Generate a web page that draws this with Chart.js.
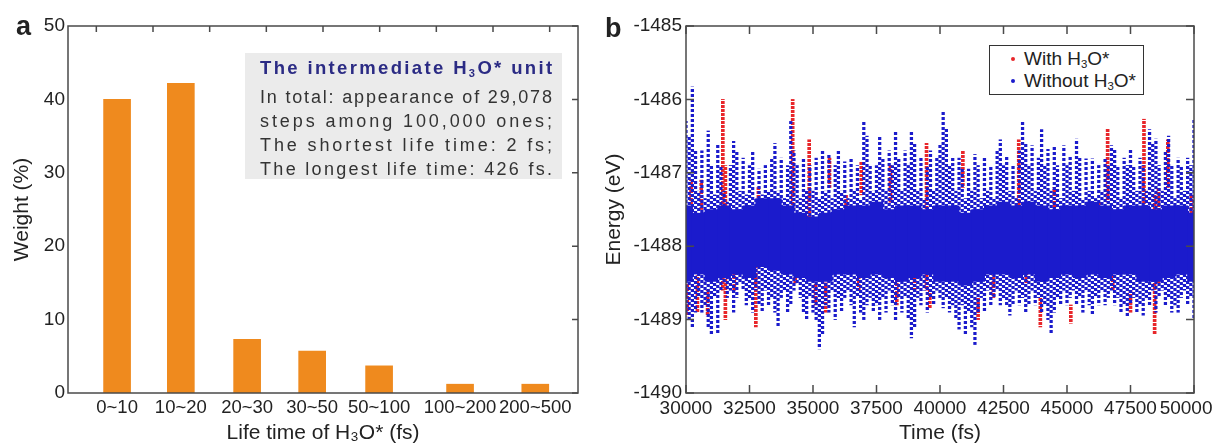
<!DOCTYPE html>
<html>
<head>
<meta charset="utf-8">
<script src="https://cdn.jsdelivr.net/npm/chart.js@4.4.0/dist/chart.umd.min.js"></script>
<style>
  body { margin: 0; background: #fff; font-family: "Liberation Sans", Arial, sans-serif; }
  #wrap { position: relative; width: 1215px; height: 446px; overflow: hidden; }
  #cA { position: absolute; left: 0; top: 0; }
  #cB { position: absolute; left: 590px; top: 0; }
  .tag { position: absolute; font-weight: bold; font-size: 27px; color: #222; line-height: 1; }
  #note { position: absolute; left: 245px; top: 53px; width: 317px; height: 126px; background: #ebebeb; }
  #note div { position: absolute; left: 15px; font-size: 18px; line-height: 24px; color: #333; white-space: nowrap; }
  #note div.head { color: #2b2b84; font-weight: bold; font-size: 18.5px; }
  sub { font-size: 60%; vertical-align: -0.25em; line-height: 0; }
  #legend { position: absolute; left: 989px; top: 45px; width: 153px; height: 48px; border: 1px solid #333;
            background: #fff; font-size: 19px; color: #222; }
  #legend div { position: absolute; left: 34px; line-height: 22px; white-space: nowrap; }
  #legend span.dot { position: absolute; left: -13px; top: 9px; width: 4px; height: 4px; border-radius: 50%; }
</style>
</head>
<body>
<div id="wrap">
  <canvas id="cA" width="590" height="446"></canvas>
  <canvas id="cB" width="625" height="446"></canvas>
  <div class="tag" style="left:16px;top:13px;">a</div>
  <div class="tag" style="left:605px;top:15px;">b</div>
  <div id="note">
    <div class="head" style="top:3px;">The intermediate H<sub>3</sub>O* unit</div>
    <div style="top:32px;">In total: appearance of 29,078</div>
    <div style="top:56px;">steps among 100,000 ones;</div>
    <div style="top:80px;">The shortest life time: 2 fs;</div>
    <div style="top:104px;">The longest life time: 426 fs.</div>
  </div>
  <div id="legend">
    <div style="top:2px;"><span class="dot" style="background:#e8262a"></span>With H<sub>3</sub>O*</div>
    <div style="top:24px;"><span class="dot" style="background:#1b1bcc"></span>Without H<sub>3</sub>O*</div>
  </div>
</div>
<script>
// Panel a: life time distribution of the H3O* unit
var lifeLabels = ["0~10", "10~20", "20~30", "30~50", "50~100", "100~200", "200~500"];
var weights = [40.0, 42.2, 7.3, 5.7, 3.7, 1.2, 1.2];

// Panel b: energy traces, read as streak ranges per time column
var blueTimes = [
  30000, 30125, 30250, 30375, 30500, 30625, 30750, 30875, 31000, 31125, 31250, 31375, 31500, 31625, 31750, 31875,
  32000, 32125, 32250, 32375, 32500, 32625, 32750, 32875, 33000, 33125, 33250, 33375, 33500, 33625, 33750, 33875,
  34000, 34125, 34250, 34375, 34500, 34625, 34750, 34875, 35000, 35125, 35250, 35375, 35500, 35625, 35750, 35875,
  36000, 36125, 36250, 36375, 36500, 36625, 36750, 36875, 37000, 37125, 37250, 37375, 37500, 37625, 37750, 37875,
  38000, 38125, 38250, 38375, 38500, 38625, 38750, 38875, 39000, 39125, 39250, 39375, 39500, 39625, 39750, 39875,
  40000, 40125, 40250, 40375, 40500, 40625, 40750, 40875, 41000, 41125, 41250, 41375, 41500, 41625, 41750, 41875,
  42000, 42125, 42250, 42375, 42500, 42625, 42750, 42875, 43000, 43125, 43250, 43375, 43500, 43625, 43750, 43875,
  44000, 44125, 44250, 44375, 44500, 44625, 44750, 44875, 45000, 45125, 45250, 45375, 45500, 45625, 45750, 45875,
  46000, 46125, 46250, 46375, 46500, 46625, 46750, 46875, 47000, 47125, 47250, 47375, 47500, 47625, 47750, 47875,
  48000, 48125, 48250, 48375, 48500, 48625, 48750, 48875, 49000, 49125, 49250, 49375, 49500, 49625, 49750, 49875,
  50000
];
var blueHigh = [
  -1486.3, -1486.5, -1485.83, -1486.7, -1487.25, -1486.7, -1487.35, -1486.43, -1486.9, -1487.3, -1486.6, -1486.9, -1487.25, -1487.4, -1486.9, -1486.57,
  -1486.7, -1487.25, -1486.8, -1487.3, -1486.9, -1486.7, -1487.35, -1486.95, -1487.3, -1486.9, -1487.25, -1486.8, -1486.6, -1487.25, -1486.8, -1487.35,
  -1486.9, -1486.3, -1486.7, -1486.9, -1487.35, -1486.8, -1487.25, -1486.9, -1487.25, -1486.8, -1487.35, -1486.7, -1487.25, -1486.75, -1487.35, -1486.9,
  -1486.7, -1487.25, -1486.85, -1487.35, -1486.8, -1487.25, -1486.9, -1487.35, -1486.3, -1486.5, -1486.9, -1487.25, -1486.9, -1486.5, -1486.8, -1487.25,
  -1486.7, -1486.9, -1486.45, -1486.8, -1487.25, -1486.7, -1486.9, -1486.45, -1486.6, -1487.25, -1486.8, -1487.35, -1486.9, -1486.7, -1487.25, -1486.8,
  -1486.6, -1486.16, -1486.4, -1486.9, -1486.8, -1487.25, -1486.8, -1486.95, -1487.35, -1486.95, -1487.25, -1486.75, -1486.9, -1487.35, -1486.8, -1487.25,
  -1486.9, -1487.35, -1486.7, -1486.55, -1486.9, -1486.77, -1487.25, -1486.9, -1487.35, -1486.7, -1486.3, -1486.6, -1486.9, -1486.63, -1487.25, -1486.8,
  -1486.41, -1486.9, -1486.68, -1487.25, -1486.63, -1486.9, -1487.35, -1486.63, -1486.9, -1486.77, -1487.25, -1486.54, -1486.8, -1487.35, -1486.81, -1487.25,
  -1486.81, -1487.35, -1486.9, -1487.25, -1486.8, -1486.9, -1486.63, -1486.68, -1486.9, -1487.35, -1486.8, -1486.9, -1486.68, -1486.9, -1487.25, -1486.8,
  -1486.9, -1487.25, -1486.41, -1486.6, -1486.54, -1486.9, -1487.25, -1486.7, -1486.5, -1486.9, -1487.35, -1486.8, -1486.9, -1487.25, -1486.8, -1486.9,
  -1486.27
];
var blueLow = [
  -1488.9, -1489.0, -1489.1, -1488.9, -1488.7, -1488.9, -1488.8, -1489.1, -1489.2, -1488.7, -1489.2, -1488.6, -1488.5, -1488.7, -1488.6, -1488.9,
  -1488.7, -1488.5, -1488.6, -1488.8, -1488.7, -1488.9, -1488.6, -1488.8, -1488.9, -1488.6, -1488.8, -1488.7, -1488.9, -1489.1, -1488.7, -1488.6,
  -1488.9, -1488.8, -1488.6, -1488.5, -1488.7, -1488.9, -1489.0, -1488.7, -1488.9, -1489.0, -1489.4, -1489.2, -1488.8, -1488.9, -1488.6, -1489.0,
  -1488.7, -1488.9, -1488.7, -1488.6, -1488.8, -1489.1, -1488.7, -1488.9, -1489.0, -1488.8, -1488.7, -1488.9, -1488.8, -1489.0, -1488.7, -1488.9,
  -1488.6, -1488.8, -1489.0, -1488.7, -1488.9, -1488.7, -1489.0, -1489.25, -1489.1, -1488.7, -1488.8, -1488.6, -1488.9, -1488.7, -1488.8, -1488.6,
  -1488.7, -1488.84, -1488.7, -1488.9, -1488.8, -1489.0, -1489.13, -1488.8, -1489.2, -1488.9, -1489.1, -1489.34, -1488.9, -1488.7, -1488.9, -1488.6,
  -1488.8, -1488.7, -1488.6, -1488.8, -1488.7, -1488.8, -1488.94, -1488.8, -1488.6, -1488.8, -1488.7, -1488.9, -1488.8, -1488.6, -1488.8, -1488.7,
  -1488.9, -1488.8, -1489.0, -1489.2, -1488.9, -1488.7, -1488.8, -1488.6, -1488.8, -1488.7, -1488.6, -1488.8, -1488.7, -1488.9, -1488.6, -1488.8,
  -1488.94, -1488.7, -1488.8, -1488.6, -1488.8, -1488.7, -1488.6, -1488.8, -1488.7, -1488.9, -1488.8, -1488.95, -1488.8, -1488.7, -1488.9, -1488.8,
  -1488.94, -1488.7, -1488.8, -1488.6, -1488.9, -1488.7, -1488.6, -1488.8, -1488.7, -1488.9, -1488.8, -1488.9, -1488.7, -1488.6, -1488.8, -1488.7,
  -1489.0
];
// dense core of the blue band, every 500 fs
var coreTimes = [
  30000, 30500, 31000, 31500, 32000, 32500, 33000, 33500, 34000, 34500, 35000, 35500, 36000, 36500,
  37000, 37500, 38000, 38500, 39000, 39500, 40000, 40500, 41000, 41500, 42000, 42500, 43000, 43500,
  44000, 44500, 45000, 45500, 46000, 46500, 47000, 47500, 48000, 48500, 49000, 49500, 50000
];
var coreHigh = [
  -1487.45, -1487.55, -1487.5, -1487.45, -1487.5, -1487.45, -1487.35, -1487.35, -1487.45, -1487.55, -1487.6, -1487.55, -1487.5, -1487.45,
  -1487.45, -1487.4, -1487.5, -1487.45, -1487.45, -1487.5, -1487.45, -1487.45, -1487.55, -1487.5, -1487.45, -1487.4, -1487.45, -1487.4,
  -1487.45, -1487.5, -1487.45, -1487.45, -1487.4, -1487.45, -1487.5, -1487.45, -1487.45, -1487.5, -1487.45, -1487.45, -1487.55
];
var coreLow = [
  -1488.48, -1488.38, -1488.48, -1488.43, -1488.38, -1488.43, -1488.28, -1488.33, -1488.38, -1488.43, -1488.48, -1488.48, -1488.38, -1488.38,
  -1488.43, -1488.38, -1488.43, -1488.48, -1488.43, -1488.38, -1488.48, -1488.48, -1488.53, -1488.48, -1488.38, -1488.38, -1488.43, -1488.38,
  -1488.48, -1488.43, -1488.38, -1488.43, -1488.38, -1488.43, -1488.38, -1488.38, -1488.48, -1488.48, -1488.43, -1488.38, -1488.48
];
// red streaks (steps with H3O*)
var redTimes = [
  30050, 30200, 30450, 30600, 30850, 31000, 31450, 31550, 31900, 32200, 32750, 32850, 33500, 34200, 34300, 34850,
  35100, 35500, 35650, 36300, 36800, 36900, 38050, 38300, 39000, 39470, 39600, 40900, 41100, 41500, 42100, 43100,
  43400, 43950, 44500, 45150, 45700, 46300, 46600, 46800, 47300, 47500, 48030, 48450, 48600, 48970, 49300, 49900
];
var redHigh = [
  -1488.5, -1487.1, -1488.4, -1487.1, -1488.6, -1487.8, -1486.0, -1486.9, -1488.3, -1487.5, -1488.0, -1487.2, -1488.0, -1486.0, -1488.2, -1486.55,
  -1488.5, -1488.5, -1486.8, -1487.3, -1488.3, -1486.85, -1486.9, -1488.4, -1488.3, -1486.6, -1488.6, -1486.7, -1488.0, -1488.7, -1488.4, -1486.55,
  -1488.2, -1488.7, -1487.2, -1488.8, -1488.0, -1487.4, -1486.4, -1488.2, -1487.5, -1488.6, -1486.27, -1487.3, -1487.2, -1486.55, -1487.9, -1487.3
];
var redLow = [
  -1488.95, -1487.6, -1488.9, -1487.5, -1488.95, -1488.2, -1488.6, -1489.0, -1488.6, -1487.7, -1489.1, -1487.8, -1488.3, -1487.5, -1488.5, -1487.8,
  -1488.8, -1488.9, -1487.2, -1487.6, -1488.6, -1487.3, -1487.4, -1488.8, -1488.6, -1488.6, -1488.85, -1487.2, -1488.3, -1489.0, -1488.7, -1487.7,
  -1488.5, -1489.1, -1487.6, -1489.05, -1488.3, -1487.8, -1487.4, -1488.6, -1487.8, -1488.9, -1487.5, -1489.2, -1488.5, -1487.2, -1488.2, -1487.7
];

// where the bars of panel a sit on its 0..8 axis (the original spreads the wide labels out)
var barSlots = [0.77, 1.77, 2.81, 3.83, 4.88, 6.15, 7.33];

Chart.defaults.font.family = '"Liberation Sans", Arial, sans-serif';
Chart.defaults.color = "#222";
Chart.defaults.animation = false;

var frameColor = "#4a4a4a";
var blue = "#1b1bcc";
var red = "#e8262a";

// dotted fills, staggered from column to column, so streaks read as points
function dotPatterns(color, period, phases) {
  return phases.map(function (ph) {
    var c = document.createElement("canvas");
    c.width = 1;
    c.height = period;
    var g = c.getContext("2d");
    g.fillStyle = color;
    for (var k = 0; k < 3; k++) g.fillRect(0, (ph + k) % period, 1, 1);
    return g.createPattern(c, "repeat");
  });
}
var bluePats = dotPatterns(blue, 5, [0, 2, 4, 1, 3]);
var redPats = dotPatterns(red, 4, [0, 2, 1, 3]);

// fit each line of the note box to the same width, like the original
var noteLines = document.querySelectorAll("#note div");
for (var i = 0; i < noteLines.length; i++) {
  var el = noteLines[i];
  var n = el.textContent.length;
  var w = el.getBoundingClientRect().width;
  el.style.letterSpacing = ((292 - w) / (n - 1)).toFixed(2) + "px";
}

// frame box and inward tick marks taken from the scales
var frameTicks = {
  id: "frameTicks",
  afterDatasetsDraw: function (chart, args, opts) {
    var ctx = chart.ctx;
    var a = chart.chartArea;
    ctx.save();
    ctx.strokeStyle = frameColor;
    ctx.lineWidth = 1.5;
    ctx.beginPath();
    opts.marks.forEach(function (m) {
      var sc = chart.scales[m.scale];
      sc.ticks.forEach(function (t) {
        var p = sc.getPixelForValue(t.value);
        if (m.side == "top") { ctx.moveTo(p, a.top); ctx.lineTo(p, a.top + opts.len); }
        if (m.side == "bottom") { ctx.moveTo(p, a.bottom); ctx.lineTo(p, a.bottom - opts.len); }
        if (m.side == "left") { ctx.moveTo(a.left, p); ctx.lineTo(a.left + opts.len, p); }
        if (m.side == "right") { ctx.moveTo(a.right, p); ctx.lineTo(a.right - opts.len, p); }
      });
    });
    ctx.stroke();
    ctx.strokeRect(a.left, a.top, a.right - a.left, a.bottom - a.top);
    ctx.restore();
  },
};

var tickFont = { size: 19 };
var titleFont = { size: 21 };

// Panel a
var ctxA = document.getElementById("cA").getContext("2d");
var chartA = new Chart(ctxA, {
  type: "bar",
  data: {
    datasets: [
      {
        data: weights.map(function (v, i) { return { x: barSlots[i], y: v }; }),
        backgroundColor: "#ef8a1e",
        borderWidth: 0,
        barThickness: 27,
      },
    ],
  },
  options: {
    responsive: false,
    devicePixelRatio: 1,
    layout: { padding: { left: 0, right: 12, top: 26, bottom: 0 } },
    plugins: {
      legend: { display: false },
      tooltip: { enabled: false },
      frameTicks: { len: 6, marks: [{ scale: "xTop", side: "top" }, { scale: "y", side: "right" }] },
    },
    scales: {
      x: {
        type: "linear",
        offset: false,
        min: 0,
        max: 8,
        grid: { display: false, drawTicks: false },
        border: { display: false },
        afterBuildTicks: function (s) {
          s.ticks = barSlots.map(function (p) { return { value: p }; });
        },
        ticks: {
          font: { size: 18.5 },
          padding: 4,
          maxRotation: 0,
          autoSkip: false,
          callback: function (v, i) { return lifeLabels[i]; },
        },
        title: { display: true, text: "Life time of H\u2083O* (fs)", font: titleFont, padding: { top: 0, bottom: 0 } },
        afterFit: function (s) { s.height = 53; s.paddingLeft = 0; s.paddingRight = 0; },
      },
      xTop: {
        type: "linear",
        position: "top",
        display: false,
        min: 0,
        max: 8,
        ticks: { stepSize: 1 },
      },
      y: {
        min: 0,
        max: 50,
        grid: { display: false, drawTicks: false },
        border: { display: false },
        ticks: { stepSize: 10, font: tickFont, padding: 3 },
        title: { display: true, text: "Weight (%)", font: titleFont, padding: { top: 10, bottom: 0 } },
        afterFit: function (s) { s.width = 68; },
      },
    },
  },
  plugins: [frameTicks],
});

// Panel b
var ctxB = document.getElementById("cB").getContext("2d");
var chartB = new Chart(ctxB, {
  type: "bar",
  data: {
    datasets: [
      {
        label: "core",
        data: coreTimes.map(function (t, i) { return { x: t, y: [coreLow[i], coreHigh[i]] }; }),
        backgroundColor: blue,
        borderWidth: 0,
        barThickness: 13,
        clip: 0,
      },
      {
        label: "Without H3O*",
        data: blueTimes.map(function (t, i) { return { x: t, y: [blueLow[i], blueHigh[i]] }; }),
        backgroundColor: function (c) { return bluePats[c.dataIndex % bluePats.length]; },
        borderWidth: 0,
        barThickness: 2.6,
        clip: 0,
      },
      {
        label: "With H3O*",
        data: redTimes.map(function (t, i) { return { x: t, y: [redLow[i], redHigh[i]] }; }),
        backgroundColor: function (c) { return redPats[c.dataIndex % redPats.length]; },
        borderWidth: 0,
        barThickness: 3,
        clip: 0,
      },
    ],
  },
  options: {
    responsive: false,
    devicePixelRatio: 1,
    datasets: { bar: { grouped: false } },
    layout: { padding: { left: 0, right: 21, top: 26, bottom: 0 } },
    plugins: {
      legend: { display: false },
      tooltip: { enabled: false },
      frameTicks: {
        len: 8,
        marks: [
          { scale: "x", side: "top" },
          { scale: "x", side: "bottom" },
          { scale: "y", side: "left" },
          { scale: "y", side: "right" },
        ],
      },
    },
    scales: {
      x: {
        type: "linear",
        offset: false,
        min: 30000,
        max: 50000,
        grid: { display: false, drawTicks: false },
        border: { display: false },
        ticks: {
          stepSize: 2500,
          font: tickFont,
          padding: 4,
          maxRotation: 0,
          autoSkip: false,
          // the last label is nudged left so it stays inside the page
          callback: function (v) { return v == 50000 ? String(v) + "\u00a0\u00a0\u00a0" : String(v); },
        },
        title: { display: true, text: "Time (fs)", font: titleFont, padding: { top: 0, bottom: 0 } },
        afterFit: function (s) { s.height = 53; s.paddingLeft = 0; s.paddingRight = 0; },
      },
      y: {
        min: -1490,
        max: -1485,
        grid: { display: false, drawTicks: false },
        border: { display: false },
        ticks: { stepSize: 1, font: tickFont, padding: 4, callback: function (v) { return String(v); } },
        title: { display: true, text: "Energy (eV)", font: titleFont, padding: { top: 12, bottom: 0 } },
        afterFit: function (s) { s.width = 96; },
      },
    },
  },
  plugins: [frameTicks],
});
</script>
</body>
</html>
